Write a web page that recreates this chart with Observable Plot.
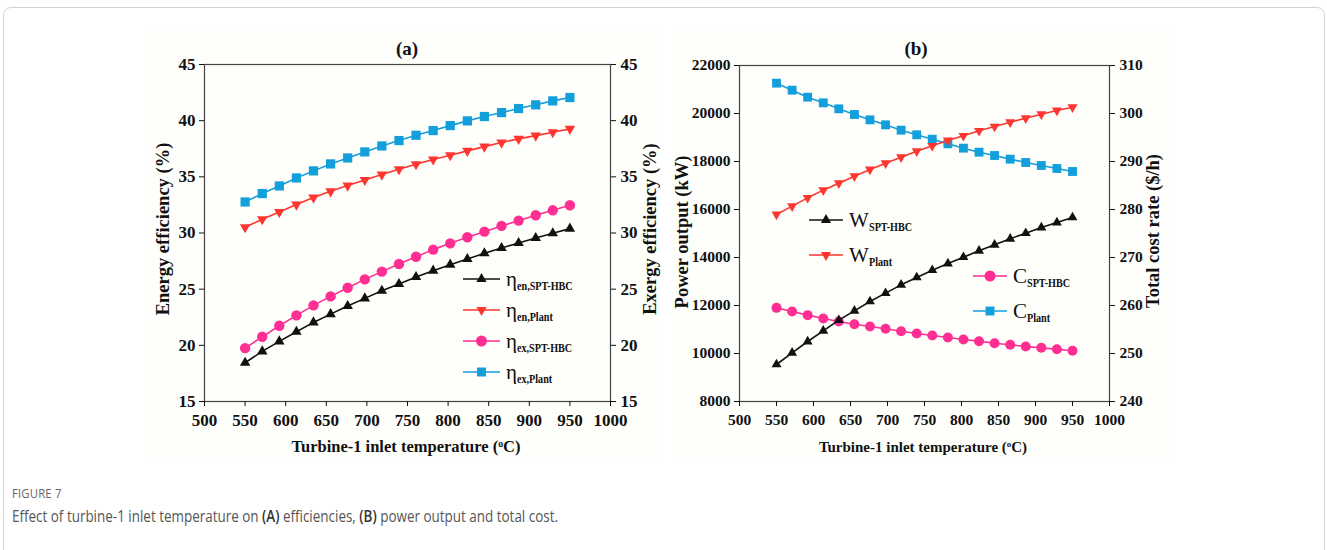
<!DOCTYPE html>
<html>
<head>
<meta charset="utf-8">
<script src="https://cdn.jsdelivr.net/npm/d3@7"></script>
<script src="https://cdn.jsdelivr.net/npm/@observablehq/plot@0.6"></script>
<style>
  body { margin: 0; background: #fff; }
  #fig { position: relative; width: 1327px; height: 550px; overflow: hidden; font-family: "Liberation Serif", serif; }
  .box { position: absolute; left: 3px; top: 7px; width: 1320px; height: 600px; border: 1px solid #d2d2d2; border-radius: 8px; }
  .panel { position: absolute; }
  .lbl { position: absolute; white-space: nowrap; font-weight: bold; color: #111; transform: translate(-50%, -50%); }
  .vlbl { position: absolute; white-space: nowrap; font-weight: bold; color: #111; transform: translate(-50%, -50%) rotate(-90deg); }
  .leg { position: absolute; display: flex; align-items: center; white-space: nowrap; color: #111; }
  .leg svg { display: block; }
  .leg .m { font-size: 21px; margin-left: 6px; }
  .leg .s { font-size: 13px; font-weight: bold; position: relative; top: 7px; display: inline-block; transform: scaleX(0.78); transform-origin: left center; }
  .cap1, .cap2 { position: absolute; left: 12px; font-family: "Open Sans", sans-serif; white-space: nowrap; transform: scaleX(0.84); transform-origin: left center; }
  .cap1 { top: 484px; font-size: 13.5px; color: #666; letter-spacing: 0.2px; }
  .cap2 { top: 505px; font-size: 16px; color: #555; }
  .cap2 b { color: #333; font-weight: 600; }
</style>
</head>
<body>
<div id="fig">
  <div class="box"></div>
</div>
<script>
// Turbine-1 inlet temperature (°C)
const temps = [550, 571.1, 592.1, 613.2, 634.2, 655.3, 676.3, 697.4, 718.4, 739.5,
               760.5, 781.6, 802.6, 823.7, 844.7, 865.8, 886.8, 907.9, 928.9, 950];

// (a) efficiencies, %
const etaEnSpt   = [18.45, 19.46, 20.35, 21.21, 22.04, 22.78, 23.50, 24.18, 24.86, 25.46,
                    26.08, 26.65, 27.18, 27.68, 28.19, 28.67, 29.11, 29.56, 29.97, 30.39];
const etaEnPlant = [30.51, 31.22, 31.87, 32.53, 33.15, 33.71, 34.22, 34.72, 35.20, 35.67,
                    36.12, 36.54, 36.92, 37.31, 37.69, 38.05, 38.38, 38.67, 38.97, 39.27];
const etaExSpt   = [19.75, 20.76, 21.74, 22.67, 23.56, 24.36, 25.13, 25.87, 26.56, 27.24,
                    27.89, 28.52, 29.08, 29.62, 30.12, 30.63, 31.10, 31.58, 32.02, 32.47];
const etaExPlant = [32.76, 33.51, 34.19, 34.90, 35.53, 36.15, 36.68, 37.22, 37.75, 38.23,
                    38.70, 39.12, 39.56, 39.98, 40.37, 40.72, 41.08, 41.41, 41.76, 42.06];

// (b) power output, kW
const powerSpt   = [9542, 10028, 10500, 10944, 11389, 11778, 12167, 12514, 12861, 13167,
                    13472, 13750, 14014, 14278, 14528, 14778, 15014, 15250, 15458, 15667];
const powerPlant = [15792, 16139, 16486, 16806, 17097, 17389, 17667, 17931, 18181, 18431,
                    18653, 18875, 19069, 19278, 19458, 19639, 19806, 19972, 20125, 20264];
// (b) total cost rate, $/h
const costSpt    = [259.51, 258.75, 257.99, 257.29, 256.67, 256.11, 255.63, 255.14, 254.65, 254.17,
                    253.75, 253.33, 252.92, 252.57, 252.15, 251.81, 251.46, 251.18, 250.90, 250.56];
const costPlant  = [306.32, 304.86, 303.40, 302.22, 300.97, 299.79, 298.68, 297.64, 296.53, 295.56,
                    294.65, 293.68, 292.78, 291.94, 291.25, 290.49, 289.79, 289.17, 288.54, 287.92];

// axis tick values
const xTicks     = [500, 550, 600, 650, 700, 750, 800, 850, 900, 950, 1000];
const effTicks   = [15, 20, 25, 30, 35, 40, 45];
const powerTicks = [8000, 10000, 12000, 14000, 16000, 18000, 20000, 22000];
const costTicks  = [240, 250, 260, 270, 280, 290, 300, 310];

const BLACK = "#111111", RED = "#ff3530", PINK = "#ff2e93", BLUE = "#139fdb";
const BG = "#fefefa";

// downward-pointing triangle
const triangleDown = {
  draw(ctx, size) {
    const y = -Math.sqrt(size / (Math.sqrt(3) * 3));
    ctx.moveTo(0, -y * 2);
    ctx.lineTo(-Math.sqrt(3) * y, y);
    ctx.lineTo(Math.sqrt(3) * y, y);
    ctx.closePath();
  }
};

const rows = (ys) => temps.map((t, i) => ({t, v: ys[i]}));

function series(ys, color, symbol, r, yMap = (v) => v) {
  const data = rows(ys);
  return [
    Plot.line(data, {x: "t", y: (d) => yMap(d.v), stroke: color, strokeWidth: 1.6}),
    Plot.dot(data, {x: "t", y: (d) => yMap(d.v), fill: color, stroke: "none", symbol, r})
  ];
}

const fig = document.getElementById("fig");

// ---------- (a) efficiencies ----------
const plotA = Plot.plot({
  width: 507, height: 428,
  marginLeft: 54, marginRight: 47, marginTop: 34, marginBottom: 57,
  style: {background: BG, fontFamily: "Liberation Serif, serif", fontSize: "17px", fontWeight: "bold", color: "#111", overflow: "visible"},
  x: {domain: [500, 1000]},
  y: {domain: [15, 45]},
  marks: [
    Plot.frame({stroke: "#444", strokeWidth: 1.2}),
    Plot.axisX(xTicks, {tickSize: 5, tickPadding: 7, label: null, tickFormat: (d) => String(d)}),
    Plot.axisY(effTicks, {tickSize: 5, tickPadding: 4, label: null}),
    Plot.axisY(effTicks, {anchor: "right", tickSize: 5, tickPadding: 5, label: null}),
    ...series(etaExPlant, BLUE, "square", 5.2),
    ...series(etaEnPlant, RED, triangleDown, 3.9),
    ...series(etaExSpt, PINK, "circle", 5.2),
    ...series(etaEnSpt, BLACK, "triangle", 3.9)
  ]
});
const panelA = document.createElement("div");
panelA.className = "panel";
panelA.style.left = "150px"; panelA.style.top = "30px";
panelA.appendChild(plotA);
fig.appendChild(panelA);

// ---------- (b) power output and total cost ----------
// the cost axis on the right shares the frame with the power axis on the left
const costToPower = (c) => 8000 + (c - 240) * 200;
const powerToCost = (p) => 240 + (p - 8000) / 200;

const plotB = Plot.plot({
  width: 503, height: 428,
  marginLeft: 67, marginRight: 66, marginTop: 35, marginBottom: 57,
  style: {background: BG, fontFamily: "Liberation Serif, serif", fontSize: "15.5px", fontWeight: "bold", color: "#111", overflow: "visible"},
  x: {domain: [500, 1000]},
  y: {domain: [8000, 22000]},
  marks: [
    Plot.frame({stroke: "#444", strokeWidth: 1.2}),
    Plot.axisX(xTicks, {tickSize: 5, tickPadding: 7, label: null, tickFormat: (d) => String(d)}),
    Plot.axisY(powerTicks, {tickSize: 5, tickPadding: 4, label: null, tickFormat: (d) => String(d)}),
    Plot.axisY(costTicks.map(costToPower), {anchor: "right", tickSize: 5, tickPadding: 5, label: null,
      tickFormat: (d) => String(Math.round(powerToCost(d)))}),
    ...series(costPlant, BLUE, "square", 5.0, costToPower),
    ...series(powerPlant, RED, triangleDown, 3.7),
    ...series(costSpt, PINK, "circle", 5.0, costToPower),
    ...series(powerSpt, BLACK, "triangle", 3.7)
  ]
});
const panelB = document.createElement("div");
panelB.className = "panel";
panelB.style.left = "672px"; panelB.style.top = "30px";
panelB.appendChild(plotB);
fig.appendChild(panelB);

// ---------- titles ----------
function label(html, x, y, size, vertical = false) {
  const el = document.createElement("div");
  el.className = vertical ? "vlbl" : "lbl";
  el.style.left = x + "px"; el.style.top = y + "px";
  el.style.fontSize = size + "px";
  el.innerHTML = html;
  fig.appendChild(el);
}
const xTitle = 'Turbine-1 inlet temperature (<sup style="font-size:0.6em;vertical-align:0.55em">o</sup>C)';
label("(a)", 407, 49, 19);
label("(b)", 916, 49, 19);
label(xTitle, 406, 447, 16.5);
label(xTitle, 923, 447, 15);
label("Energy efficiency (%)", 163, 229, 18.5, true);
label("Exergy efficiency (%)", 650, 229, 18.5, true);
label("Power output (kW)", 682, 232, 18.5, true);
label("Total cost rate ($/h)", 1153, 231, 18.5, true);

// ---------- legends ----------
const legendA = [
  {main: "η", sub: "en,SPT-HBC", color: BLACK, sym: d3.symbolTriangle},
  {main: "η", sub: "en,Plant",   color: RED,   sym: triangleDown},
  {main: "η", sub: "ex,SPT-HBC", color: PINK,  sym: d3.symbolCircle},
  {main: "η", sub: "ex,Plant",   color: BLUE,  sym: d3.symbolSquare}
];
const legendBW = [
  {main: "W", sub: "SPT-HBC", color: BLACK, sym: d3.symbolTriangle},
  {main: "W", sub: "Plant",   color: RED,   sym: triangleDown}
];
const legendBC = [
  {main: "C", sub: "SPT-HBC", color: PINK, sym: d3.symbolCircle},
  {main: "C", sub: "Plant",   color: BLUE, sym: d3.symbolSquare}
];

function legend(items, left, top, step, sampleW) {
  items.forEach((it, i) => {
    const row = d3.select(fig).append("div").attr("class", "leg")
      .style("left", left + "px").style("top", (top + i * step - 12) + "px").style("height", "24px");
    const svg = row.append("svg").attr("width", sampleW).attr("height", 14);
    svg.append("line").attr("x1", 0).attr("x2", sampleW).attr("y1", 7).attr("y2", 7)
      .attr("stroke", it.color).attr("stroke-width", 1.6);
    const area = it.sym === d3.symbolCircle ? 95 : it.sym === d3.symbolSquare ? 80 : 45;
    svg.append("path").attr("transform", `translate(${sampleW / 2},7)`)
      .attr("d", d3.symbol(it.sym, area)()).attr("fill", it.color);
    row.append("span").attr("class", "m").text(it.main);
    row.append("span").attr("class", "s").text(it.sub);
  });
}
legend(legendA, 463, 279, 31, 37);
legend(legendBW, 809, 220, 35, 34);
legend(legendBC, 973, 276, 35, 34);

// ---------- caption ----------
const c1 = document.createElement("div");
c1.className = "cap1"; c1.textContent = "FIGURE 7";
fig.appendChild(c1);
const c2 = document.createElement("div");
c2.className = "cap2";
c2.innerHTML = "Effect of turbine-1 inlet temperature on <b>(A)</b> efficiencies, <b>(B)</b> power output and total cost.";
fig.appendChild(c2);
</script>
</body>
</html>
